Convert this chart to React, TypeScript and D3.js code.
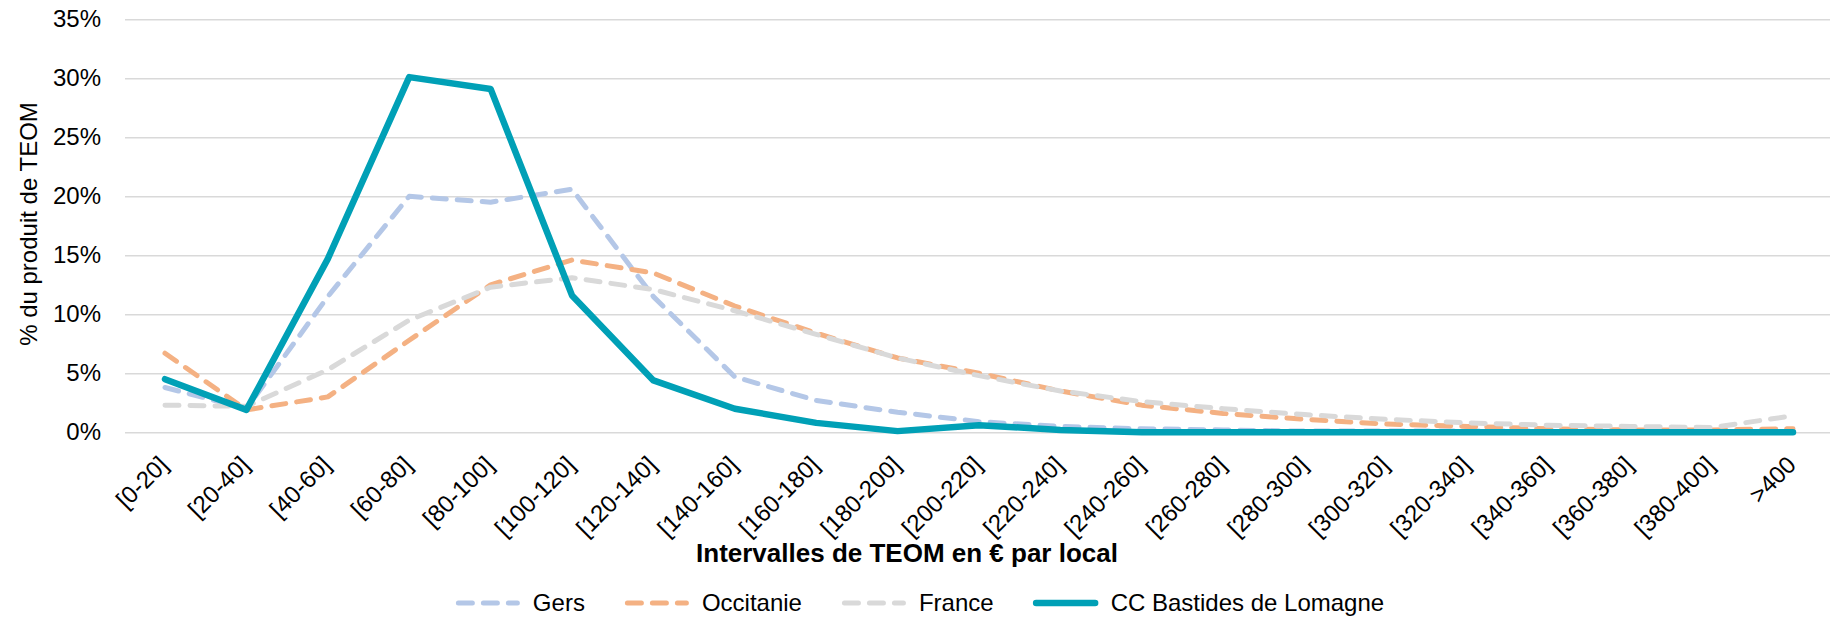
import React, { useEffect, useRef } from "react";
import * as d3 from "d3";

// intervalles de TEOM (€ par local)
const categories = [
  "[0-20]", "[20-40]", "[40-60]", "[60-80]", "[80-100]", "[100-120]", "[120-140]",
  "[140-160]", "[160-180]", "[180-200]", "[200-220]", "[220-240]", "[240-260]",
  "[260-280]", "[280-300]", "[300-320]", "[320-340]", "[340-360]", "[360-380]",
  "[380-400]", ">400",
];

// % du produit de TEOM
const gers = [3.8, 2.0, 11.5, 20.0, 19.5, 20.6, 11.5, 4.7, 2.7, 1.7, 0.9, 0.5, 0.3, 0.2, 0.1, 0.1, 0.1, 0.1, 0.0, 0.0, 0.0];
const occitanie = [6.7, 1.9, 3.0, 7.8, 12.5, 14.6, 13.5, 10.7, 8.4, 6.3, 5.0, 3.5, 2.3, 1.6, 1.1, 0.7, 0.5, 0.3, 0.2, 0.2, 0.3];
const france = [2.3, 2.2, 5.3, 9.5, 12.3, 13.1, 12.1, 10.3, 8.3, 6.3, 4.8, 3.5, 2.6, 2.0, 1.5, 1.1, 0.8, 0.6, 0.5, 0.4, 1.4];
const ccBastides = [4.5, 1.9, 14.7, 30.1, 29.1, 11.6, 4.4, 2.0, 0.8, 0.1, 0.6, 0.2, 0.0, 0.0, 0.0, 0.0, 0.0, 0.0, 0.0, 0.0, 0.0];

const yTicks = [0, 5, 10, 15, 20, 25, 30, 35];

const seriesNames = ["Gers", "Occitanie", "France", "CC Bastides de Lomagne"];
const seriesValues = [gers, occitanie, france, ccBastides];
const seriesColors = ["#B4C7E7", "#F4B183", "#D9D9D9", "#00A0B6"];
const seriesDashed = [true, true, true, false];

const width = 1830,
  height = 619;
const plot = { left: 125, right: 1830, top: 19.3, bottom: 432.3 };
const font = "'Liberation Sans', Arial, sans-serif";

export default function App(): JSX.Element {
  const ref = useRef<SVGSVGElement>(null);

  useEffect(() => {
    if (!ref.current) return;
    const svg = d3.select(ref.current);
    svg.selectAll("*").remove();

    const x = d3.scalePoint<string>().domain(categories).range([165, 1793]);
    const y = d3.scaleLinear().domain([0, 35]).range([plot.bottom, plot.top]);

    // gridlines + y labels
    const yAxis = svg
      .append("g")
      .attr("transform", `translate(${plot.left},0)`)
      .call(
        d3
          .axisLeft(y)
          .tickValues(yTicks)
          .tickSize(-(plot.right - plot.left))
          .tickPadding(24)
          .tickFormat((d) => `${d}%`)
      );
    yAxis.select(".domain").remove();
    yAxis.selectAll(".tick line").attr("stroke", "#D9D9D9").attr("stroke-width", 1.5);
    yAxis
      .selectAll(".tick text")
      .attr("font-family", font)
      .attr("font-size", 24)
      .attr("fill", "#000");

    // x labels
    const xAxis = svg
      .append("g")
      .attr("transform", `translate(0,${plot.bottom})`)
      .call(d3.axisBottom(x).tickSize(0));
    xAxis.select(".domain").remove();
    xAxis
      .selectAll(".tick text")
      .attr("font-family", font)
      .attr("font-size", 24)
      .attr("fill", "#000")
      .attr("x", 0)
      .attr("y", 0)
      .attr("dy", 0)
      .attr("text-anchor", "end")
      .attr("transform", "translate(4,34) rotate(-45)");

    // lines
    const line = d3
      .line<number>()
      .x((d, i) => x(categories[i]) as number)
      .y((d) => y(d));

    seriesValues.forEach((vals, k) => {
      svg
        .append("path")
        .datum(vals)
        .attr("d", line)
        .attr("fill", "none")
        .attr("stroke", seriesColors[k])
        .attr("stroke-width", seriesDashed[k] ? 5 : 6.5)
        .attr("stroke-linejoin", "round")
        .attr("stroke-linecap", "round")
        .attr("stroke-dasharray", seriesDashed[k] ? "14 11" : null);
    });

    // axis titles
    svg
      .append("text")
      .attr("x", 907)
      .attr("y", 562)
      .attr("text-anchor", "middle")
      .attr("font-family", font)
      .attr("font-size", 26)
      .attr("font-weight", "bold")
      .text("Intervalles de TEOM en € par local");

    svg
      .append("text")
      .attr("transform", "translate(37,224) rotate(-90)")
      .attr("text-anchor", "middle")
      .attr("font-family", font)
      .attr("font-size", 24)
      .text("% du produit de TEOM");

    // legend
    const sample = 64,
      gap = 13,
      spacing = 40;
    const legend = svg.append("g");
    const items = seriesNames.map((name, k) => {
      const g = legend.append("g");
      g.append("line")
        .attr("x1", 2.5)
        .attr("x2", sample - 2.5)
        .attr("y1", 0)
        .attr("y2", 0)
        .attr("stroke", seriesColors[k])
        .attr("stroke-width", seriesDashed[k] ? 5 : 6.5)
        .attr("stroke-linecap", "round")
        .attr("stroke-dasharray", seriesDashed[k] ? "14 11" : null);
      const t = g
        .append("text")
        .attr("x", sample + gap)
        .attr("y", 0)
        .attr("dy", "0.35em")
        .attr("font-family", font)
        .attr("font-size", 24)
        .text(name);
      const w = (t.node() as SVGTextElement).getComputedTextLength();
      return { g, w: sample + gap + w };
    });
    const total = d3.sum(items, (d) => d.w) + spacing * (items.length - 1);
    let cx = 920 - total / 2;
    items.forEach((it) => {
      it.g.attr("transform", `translate(${cx},603)`);
      cx += it.w + spacing;
    });
  }, []);

  return (
    <svg
      ref={ref}
      width={width}
      height={height}
      style={{ position: "absolute", left: 0, top: 0, background: "#fff" }}
    />
  );
}
